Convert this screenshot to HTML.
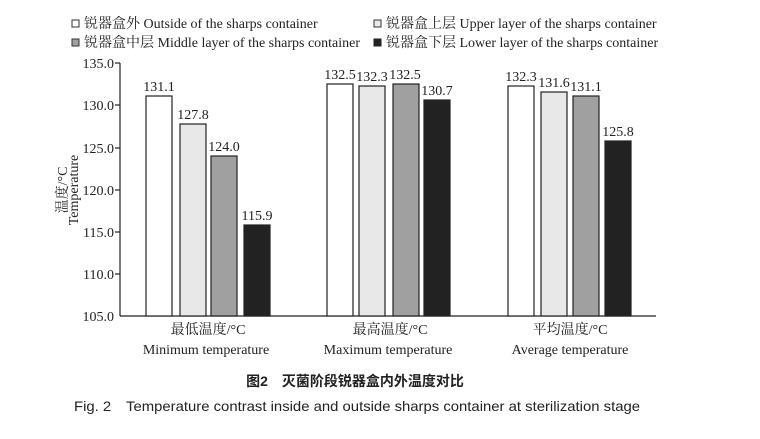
<!DOCTYPE html>
<html><head><meta charset="utf-8"><style>
body{margin:0;background:#fff;}
svg text{font-family:"Liberation Serif","Noto Serif CJK SC",serif;fill:#222;}
</style></head><body>
<svg width="760" height="434" xmlns="http://www.w3.org/2000/svg">
<g font-size="14">
<rect x="72" y="20" width="7" height="7" fill="#fff" stroke="#333"/><text x="84" y="28">锐器盒外 Outside of the sharps container</text>
<rect x="374" y="20" width="7" height="7" fill="#e8e8e8" stroke="#333"/><text x="386" y="28">锐器盒上层 Upper layer of the sharps container</text>
<rect x="72" y="39" width="7" height="7" fill="#a0a0a0" stroke="#333"/><text x="84" y="47">锐器盒中层 Middle layer of the sharps container</text>
<rect x="374" y="39" width="7" height="7" fill="#222" stroke="#222"/><text x="386" y="47">锐器盒下层 Lower layer of the sharps container</text>
</g>
<g stroke="#222" stroke-width="1.2" fill="none">
<line x1="120" y1="63" x2="120" y2="316"/>
<line x1="120" y1="316" x2="656" y2="316"/>
<line x1="115" y1="63" x2="120" y2="63"/><line x1="115" y1="105" x2="120" y2="105"/>
<line x1="115" y1="148" x2="120" y2="148"/><line x1="115" y1="190" x2="120" y2="190"/>
<line x1="115" y1="232" x2="120" y2="232"/><line x1="115" y1="274" x2="120" y2="274"/>
</g>
<g font-size="14" text-anchor="end">
<text x="114" y="68">135.0</text><text x="114" y="110">130.0</text><text x="114" y="153">125.0</text>
<text x="114" y="195">120.0</text><text x="114" y="237">115.0</text><text x="114" y="279">110.0</text><text x="114" y="321">105.0</text>
</g>
<text transform="translate(67,190) rotate(-90)" font-size="14" text-anchor="middle">温度/°C</text>
<text transform="translate(78,190) rotate(-90)" font-size="14" text-anchor="middle">Temperature</text>
<g stroke="#222" stroke-width="1.2">
<rect x="146" y="96" width="26" height="220" fill="#fff"/>
<rect x="180" y="124" width="26" height="192" fill="#e8e8e8"/>
<rect x="211" y="156" width="26" height="160" fill="#a0a0a0"/>
<rect x="244" y="225" width="26" height="91" fill="#222"/>
<rect x="327" y="84" width="26" height="232" fill="#fff"/>
<rect x="359" y="86" width="26" height="230" fill="#e8e8e8"/>
<rect x="393" y="84" width="26" height="232" fill="#a0a0a0"/>
<rect x="424" y="100" width="26" height="216" fill="#222"/>
<rect x="508" y="86" width="26" height="230" fill="#fff"/>
<rect x="541" y="92" width="26" height="224" fill="#e8e8e8"/>
<rect x="573" y="96" width="26" height="220" fill="#a0a0a0"/>
<rect x="605" y="141" width="26" height="175" fill="#222"/>
</g>
<g font-size="14" text-anchor="middle">
<text x="159" y="91">131.1</text><text x="193" y="119">127.8</text><text x="224" y="151">124.0</text><text x="257" y="220">115.9</text>
<text x="340" y="79">132.5</text><text x="372" y="81">132.3</text><text x="405" y="79">132.5</text><text x="437" y="95">130.7</text>
<text x="521" y="81">132.3</text><text x="554" y="87">131.6</text><text x="586" y="91">131.1</text><text x="618" y="136">125.8</text>
<text x="208" y="334">最低温度/°C</text><text x="206" y="354">Minimum temperature</text>
<text x="390" y="334">最高温度/°C</text><text x="388" y="354">Maximum temperature</text>
<text x="570" y="334">平均温度/°C</text><text x="570" y="354">Average temperature</text>
</g>
<text x="355" y="386" font-size="14" font-weight="bold" text-anchor="middle" style="font-family:'Liberation Sans','Noto Sans CJK SC',sans-serif">图2　灭菌阶段锐器盒内外温度对比</text>
<text x="74" y="411" font-size="14" textLength="566" lengthAdjust="spacingAndGlyphs" style="font-family:'Liberation Sans',sans-serif">Fig. 2　Temperature contrast inside and outside sharps container at sterilization stage</text>
</svg>
</body></html>
